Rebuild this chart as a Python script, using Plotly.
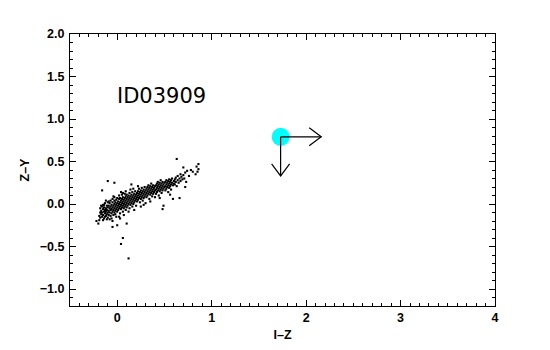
import plotly.graph_objects as go

# ---------------- data ----------------
x_pts = [
    -0.19,-0.18,-0.18,-0.17,-0.17,-0.16,-0.16,-0.16,-0.15,-0.15,-0.15,-0.14,-0.14,-0.14,-0.13,-0.13,-0.13,-0.12,-0.12,-0.12,
    -0.11,-0.11,-0.11,-0.10,-0.10,-0.10,-0.10,-0.19,-0.17,-0.15,-0.13,-0.11,-0.12,-0.18,-0.14,
    -0.09,-0.09,-0.09,-0.08,-0.08,-0.08,-0.07,-0.07,-0.07,-0.07,-0.06,-0.06,-0.06,-0.05,-0.05,-0.05,-0.05,-0.04,-0.04,-0.04,
    -0.03,-0.03,-0.03,-0.03,-0.02,-0.02,-0.02,-0.01,-0.01,-0.01,-0.01,0.00,0.00,0.00,0.00,-0.09,-0.06,-0.04,-0.02,-0.08,-0.05,-0.03,
    0.01,0.01,0.01,0.02,0.02,0.02,0.02,0.03,0.03,0.03,0.03,0.04,0.04,0.04,0.05,0.05,0.05,0.05,0.06,0.06,0.06,0.06,
    0.07,0.07,0.07,0.08,0.08,0.08,0.08,0.09,0.09,0.09,0.09,0.10,0.10,0.10,0.10,0.04,0.07,0.02,0.09,0.06,0.03,
    0.11,0.11,0.11,0.12,0.12,0.12,0.13,0.13,0.13,0.13,0.14,0.14,0.14,0.15,0.15,0.15,0.16,0.16,0.16,0.16,
    0.17,0.17,0.17,0.18,0.18,0.18,0.19,0.19,0.19,0.20,0.20,0.20,0.14,0.18,0.12,0.15,0.17,
    0.21,0.21,0.21,0.22,0.22,0.22,0.23,0.23,0.23,0.24,0.24,0.24,0.25,0.25,0.25,0.26,0.26,0.26,0.27,0.27,0.27,
    0.28,0.28,0.28,0.29,0.29,0.29,0.30,0.30,0.30,0.25,0.22,0.28,
    0.31,0.31,0.31,0.32,0.32,0.32,0.33,0.33,0.33,0.34,0.34,0.34,0.35,0.35,0.35,0.36,0.36,0.36,0.37,0.37,0.37,
    0.38,0.38,0.38,0.39,0.39,0.40,0.40,0.40,0.35,
    0.41,0.41,0.41,0.42,0.42,0.42,0.43,0.43,0.43,0.44,0.44,0.44,0.45,0.45,0.45,0.46,0.46,0.46,0.47,0.47,0.47,
    0.48,0.48,0.48,0.49,0.49,0.50,0.50,0.49,0.48,0.45,
    0.51,0.51,0.51,0.52,0.52,0.52,0.53,0.53,0.54,0.54,0.54,0.55,0.55,0.55,0.56,0.56,0.57,0.57,0.57,0.58,0.58,
    0.59,0.59,0.60,0.60,0.56,
    0.61,0.61,0.62,0.62,0.63,0.63,0.64,0.64,0.65,0.66,0.66,0.67,0.67,0.68,0.69,0.70,0.70,0.71,0.72,0.73,0.74,
    0.76,0.78,0.80,0.83,0.84,0.86,0.86,0.85,0.72,
    -0.20,0.06,0.04,0.12,-0.05,0.00,0.10,-0.16,-0.10,-0.03,-0.22,
]
y_pts = [
    -0.14,-0.10,-0.05,-0.12,-0.08,-0.15,-0.03,-0.10,-0.06,-0.13,-0.01,-0.09,-0.17,-0.04,-0.11,-0.07,0.01,-0.14,-0.05,-0.09,
    -0.02,-0.12,-0.07,-0.16,-0.04,-0.10,0.02,-0.19,-0.02,-0.19,-0.15,-0.18,0.04,-0.16,-0.01,
    -0.08,-0.02,-0.13,-0.05,0.01,-0.10,-0.03,-0.07,0.04,-0.14,-0.01,-0.06,-0.11,0.02,-0.04,-0.09,0.06,-0.02,-0.07,-0.13,
    0.00,-0.05,0.04,-0.10,-0.03,0.02,-0.08,0.05,-0.01,-0.06,-0.15,0.01,-0.04,0.07,-0.09,0.03,-0.17,0.09,-0.12,-0.18,-0.20,0.08,
    -0.02,0.03,-0.07,0.06,0.00,-0.05,0.10,0.02,-0.03,0.07,-0.11,0.04,-0.01,-0.06,0.01,0.06,-0.04,0.11,0.03,-0.02,0.08,-0.09,
    0.05,0.00,-0.05,0.02,0.07,-0.03,0.12,0.04,-0.01,0.09,-0.07,0.06,0.01,-0.04,0.11,0.14,-0.13,-0.15,0.15,0.13,-0.17,
    0.03,0.08,-0.02,0.05,0.10,0.00,0.07,0.02,0.13,-0.05,0.09,0.04,-0.01,0.06,0.11,0.01,0.08,0.03,0.14,-0.03,
    0.10,0.05,0.00,0.07,0.12,0.02,0.09,0.04,0.15,0.11,0.06,-0.02,0.17,-0.07,-0.09,0.23,0.18,
    0.08,0.13,0.03,0.10,0.15,0.05,0.12,0.07,0.18,0.09,0.14,0.02,0.11,0.16,0.06,0.13,0.08,0.19,0.10,0.15,0.04,
    0.12,0.17,0.07,0.14,0.09,0.20,0.11,0.16,0.01,-0.03,0.21,-0.01,
    0.13,0.18,0.08,0.15,0.20,0.10,0.17,0.12,0.22,0.14,0.19,0.06,0.16,0.21,0.11,0.18,0.13,0.24,0.15,0.20,0.09,
    0.17,0.22,0.12,0.19,0.14,0.16,0.21,0.08,0.03,
    0.17,0.22,0.12,0.19,0.24,0.14,0.21,0.16,0.26,0.18,0.23,0.10,0.20,0.25,0.15,0.22,0.17,0.28,0.19,0.24,0.13,
    0.21,0.26,0.16,0.23,0.18,0.20,0.25,-0.02,-0.06,0.07,
    0.21,0.26,0.16,0.23,0.28,0.18,0.25,0.20,0.22,0.27,0.14,0.24,0.29,0.19,0.26,0.21,0.23,0.28,0.17,0.25,0.30,
    0.22,0.06,0.27,0.24,0.11,
    0.29,0.23,0.26,0.31,0.53,0.21,0.28,0.33,0.25,0.30,0.07,0.35,0.27,0.32,0.29,0.43,0.34,0.30,0.37,0.26,0.39,
    0.33,0.40,0.38,0.35,0.44,0.47,0.41,0.38,0.20,
    -0.23,-0.40,-0.47,-0.64,-0.27,-0.25,-0.23,0.16,0.27,0.25,-0.20,
]

# marker position and error arrows
star_x = [1.73]
star_y = [0.79]
arrow_dx = [0.43]     # arrow along +x (I-Z)
arrow_dy = [-0.46]    # arrow along -y (Z-Y)
label_text = "ID03909"

x_range = [-0.5, 4.0]
y_range = [-1.2, 2.0]
x_tickvals = [0, 1, 2, 3, 4]
y_tickvals = [-1.0, -0.5, 0.0, 0.5, 1.0, 1.5, 2.0]

# ---------------- figure ----------------
# the page body adds an 8px offset, so margins are reduced by that amount
W, H = 550, 350
L, R, T, B = 62, 63, 26, 52
px_per_x = (W - L - R) / (x_range[1] - x_range[0])
px_per_y = (H - T - B) / (y_range[1] - y_range[0])

fig = go.Figure()

fig.add_trace(go.Scatter(
    x=x_pts, y=y_pts, mode="markers",
    marker=dict(symbol="square", size=2.1, color="black", line=dict(width=0)),
    hoverinfo="skip", showlegend=False,
))

fig.add_trace(go.Scatter(
    x=star_x, y=star_y, mode="markers",
    marker=dict(symbol="circle", size=18, color="#00FFFF", line=dict(width=0)),
    hoverinfo="skip", showlegend=False,
))

# arrow heads: wing lengths in pixels
head_back = 12
head_side = 9
line_style = dict(color="black", width=1.2)

sx, sy = star_x[0], star_y[0]
# right arrow
tx = sx + arrow_dx[0]
fig.add_trace(go.Scatter(x=[sx, tx], y=[sy, sy], mode="lines", line=line_style,
                         hoverinfo="skip", showlegend=False))
fig.add_trace(go.Scatter(
    x=[tx - head_back / px_per_x, tx, tx - head_back / px_per_x],
    y=[sy + head_side / px_per_y, sy, sy - head_side / px_per_y],
    mode="lines", line=line_style, hoverinfo="skip", showlegend=False))
# down arrow
ty = sy + arrow_dy[0]
fig.add_trace(go.Scatter(x=[sx, sx], y=[sy, ty], mode="lines", line=line_style,
                         hoverinfo="skip", showlegend=False))
fig.add_trace(go.Scatter(
    x=[sx - head_side / px_per_x, sx, sx + head_side / px_per_x],
    y=[ty + head_back / px_per_y, ty, ty + head_back / px_per_y],
    mode="lines", line=line_style, hoverinfo="skip", showlegend=False))

fig.add_annotation(
    x=-0.02, y=1.27, xref="x", yref="y", text=label_text, showarrow=False,
    xanchor="left", yanchor="middle",
    font=dict(family="DejaVu Sans", size=21, color="black"),
)

tick_font = dict(family="Liberation Sans, Arial", size=12.5, color="black", weight="bold")
title_font = dict(family="Liberation Sans, Arial", size=12.5, color="black", weight="bold")
axis_common = dict(
    showgrid=False, zeroline=False, showline=True, linecolor="black", linewidth=1.2,
    mirror="allticks", ticks="inside", ticklen=6, tickwidth=1, tickcolor="black",
    tickfont=tick_font,
)

fig.update_xaxes(
    range=x_range, tickvals=x_tickvals, ticktext=[str(v) for v in x_tickvals],
    minor=dict(dtick=0.1, ticks="inside", ticklen=3, tickcolor="black", tickwidth=1),
    title=dict(text="I–Z", font=title_font, standoff=6),
    **axis_common,
)
fig.update_yaxes(
    range=y_range, tickvals=y_tickvals, tickformat=".1f",
    minor=dict(dtick=0.1, ticks="inside", ticklen=3, tickcolor="black", tickwidth=1),
    title=dict(text="Z–Y", font=title_font, standoff=7),
    ticklabelstandoff=2,
    **axis_common,
)

fig.update_layout(
    width=W, height=H,
    margin=dict(l=L, r=R, t=T, b=B, autoexpand=False),
    plot_bgcolor="white", paper_bgcolor="white",
    showlegend=False,
)

fig.write_html("out.html")
